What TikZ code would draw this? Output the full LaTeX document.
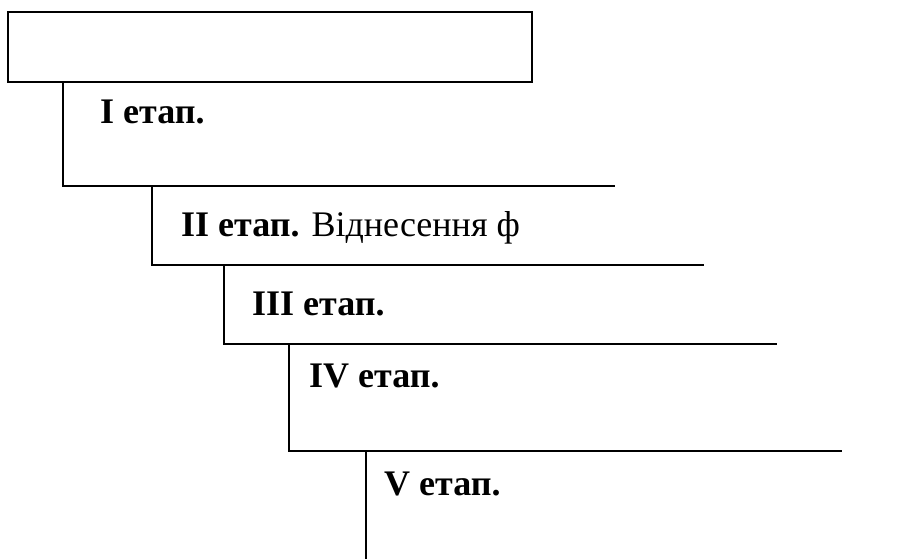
\documentclass[tikz,border=0pt]{standalone}
\usepackage{fontspec}
\setmainfont{Liberation Serif}
\begin{document}
\begin{tikzpicture}[x=1pt,y=-1pt,
  stageline/.style={line width=2pt},
  stagelabel/.style={anchor=base west,inner sep=0pt,font=\fontsize{36}{43}\selectfont}]
\useasboundingbox (0,0) rectangle (909,559);
\node[draw,line width=2.2pt,minimum width=524pt,minimum height=70pt,inner sep=0pt] (top) at (270,47) {};
\coordinate (c1a) at (63,82);
\coordinate (c1b) at (63,186);
\coordinate (c1c) at (615,186);
\coordinate (c2a) at (152,186);
\coordinate (c2b) at (152,265);
\coordinate (c2c) at (704,265);
\coordinate (c3a) at (224,265);
\coordinate (c3b) at (224,344);
\coordinate (c3c) at (777,344);
\coordinate (c4a) at (289,344);
\coordinate (c4b) at (289,451);
\coordinate (c4c) at (842,451);
\coordinate (c5a) at (366,451);
\coordinate (c5b) at (366,559);
\draw[stageline] (c1a) -- (c1b) -- (c1c);
\draw[stageline] (c2a) -- (c2b) -- (c2c);
\draw[stageline] (c3a) -- (c3b) -- (c3c);
\draw[stageline] (c4a) -- (c4b) -- (c4c);
\draw[stageline] (c5a) -- (c5b);
\node[stagelabel] (s1) at (100,124) {\textbf{I етап.}};
\node[stagelabel] (s2) at (181,236) {\textbf{II етап.} Віднесення ф};
\node[stagelabel] (s3) at (252,315) {\textbf{III етап.}};
\node[stagelabel] (s4) at (309,387) {\textbf{IV етап.}};
\node[stagelabel] (s5) at (384,495) {\textbf{V етап.}};
\end{tikzpicture}
\end{document}
